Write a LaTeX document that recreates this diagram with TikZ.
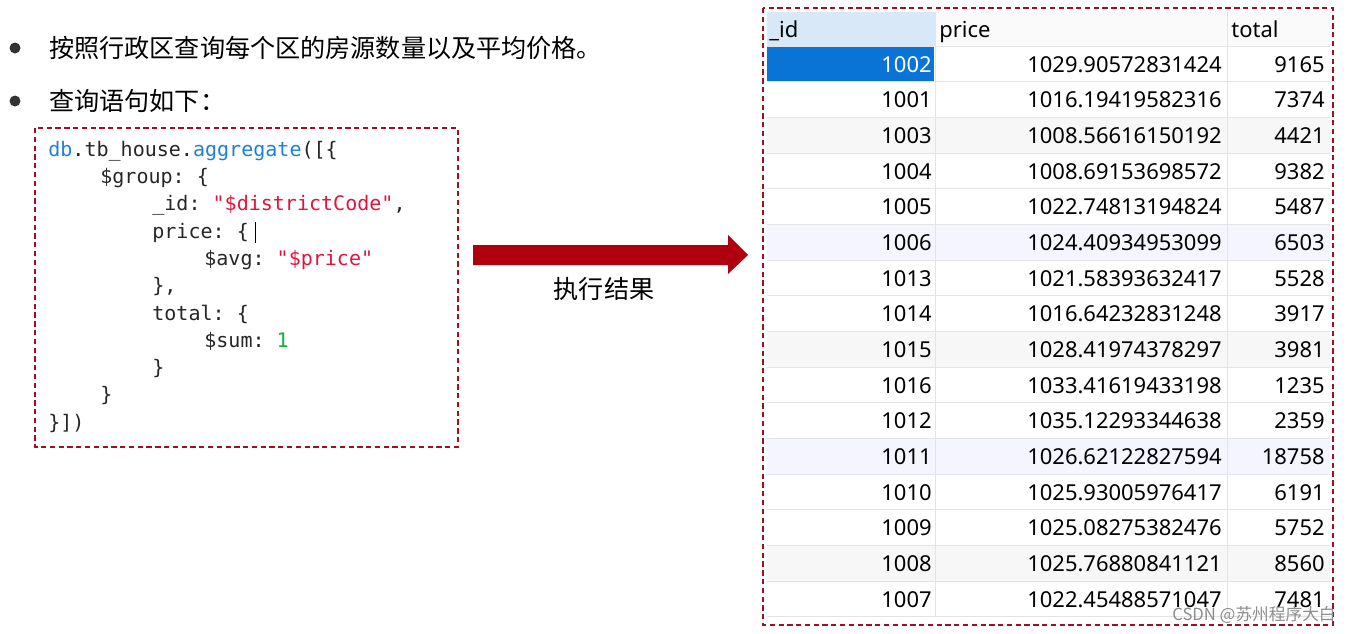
\documentclass[tikz,border=0pt]{standalone}
\usepackage{fontspec}
\setmainfont{Noto Sans}
\setmonofont{DejaVu Sans Mono}
\newfontfamily\cjk{Noto Sans CJK SC}
\definecolor{kw}{HTML}{1E7FD8}
\definecolor{str}{HTML}{E0143C}
\definecolor{num}{HTML}{10B040}
\definecolor{boxred}{HTML}{A01020}
\definecolor{arrred}{HTML}{B00010}
\definecolor{hdr}{HTML}{D8E8F6}
\definecolor{sel}{HTML}{0A74D6}
\definecolor{grid}{HTML}{E4E4E4}
\begin{document}
\begin{tikzpicture}[x=0.02cm,y=-0.02cm,
  codeln/.style={anchor=base west,inner sep=0pt,font=\ttfamily\fontsize{11.4}{13}\selectfont,text=black!85},
  cell/.style={anchor=base east,inner sep=0pt,font=\fontsize{12.5}{14}\selectfont},
  hcell/.style={anchor=base west,inner sep=0pt,font=\fontsize{12.5}{14}\selectfont},
  dbox/.style={draw=boxred,densely dashed,line width=0.6pt},
  bul/.style={anchor=base west,inner sep=0pt,font=\cjk\fontsize{14.3}{17}\selectfont}]
\useasboundingbox (0,0) rectangle (1351,633);
% bullets
\fill[black!80] (15,48) circle (5.5);
\fill[black!80] (15,101) circle (5.5);
\node[bul] (b1) at (49,57) {按照行政区查询每个区的房源数量以及平均价格。};
\node[bul] (b2) at (49,110) {查询语句如下：};
% code box
\draw[dbox] (35,128) rectangle (458,447);
\def\cx#1{48+13*#1}
\node[codeln] (c1) at ({\cx0},156) {\textcolor{kw}{db}.tb\_house.\textcolor{kw}{aggregate}([\{};
\node[codeln] (c2) at ({\cx4},183) {\$group: \{};
\node[codeln] (c3) at ({\cx8},210) {\_id: \textcolor{str}{"\$districtCode"},};
\node[codeln] (c4) at ({\cx8},238) {price: \{};
\draw[black] (255,222) -- (255,243);
\node[codeln] (c5) at ({\cx{12}},265) {\$avg: \textcolor{str}{"\$price"}};
\node[codeln] (c6) at ({\cx8},292) {\},};
\node[codeln] (c7) at ({\cx8},320) {total: \{};
\node[codeln] (c8) at ({\cx{12}},347) {\$sum: \textcolor{num}{1}};
\node[codeln] (c9) at ({\cx8},374) {\}};
\node[codeln] (c10) at ({\cx4},401) {\}};
\node[codeln] (c11) at ({\cx0},429) {\}])};
% arrow
\fill[arrred] (473,245) -- (728,245) -- (728,235) -- (748,255) -- (728,274) -- (728,265) -- (473,265) -- cycle;
\node[bul,anchor=center] (lbl) at (604,289) {执行结果};
% table
\draw[dbox] (763,8) rectangle (1333,625);
\fill[hdr] (767,12) rectangle (935,46);
\fill[black!2] (935,12) rectangle (1330,46);
\foreach \i in {2,5,8,11,14}{
  \fill[black!3] (767,{46+35.67*\i}) rectangle (1330,{46+35.67*(\i+1)});
}
\fill[blue!4] (767,{46+35.67*5}) rectangle (1330,{46+35.67*6});
\fill[blue!4] (767,{46+35.67*11}) rectangle (1330,{46+35.67*12});
\fill[sel] (767,47) rectangle (934,81);
\foreach \i in {0,...,16}{
  \draw[grid,line width=0.5pt] (767,{46+35.67*\i}) -- (1330,{46+35.67*\i});
}
\draw[grid,line width=0.5pt] (935,12) -- (935,617) (1227,12) -- (1227,617);
\node[hcell] (h1) at (769,37) {\_id};
\node[hcell] (h2) at (939,37) {price};
\node[hcell] (h3) at (1231,37) {total};
\foreach \id/\pr/\tt [count=\k from 0] in {
1002/1029.90572831424/9165,1001/1016.19419582316/7374,1003/1008.56616150192/4421,
1004/1008.69153698572/9382,1005/1022.74813194824/5487,1006/1024.40934953099/6503,
1013/1021.58393632417/5528,1014/1016.64232831248/3917,1015/1028.41974378297/3981,
1016/1033.41619433198/1235,1012/1035.12293344638/2359,1011/1026.62122827594/18758,
1010/1025.93005976417/6191,1009/1025.08275382476/5752,1008/1025.76880841121/8560,
1007/1022.45488571047/7481}{
  \pgfmathsetmacro\yy{72+35.67*\k}
  \ifnum\k=0
    \node[cell,text=white] (i\k) at (932,\yy) {\id};
  \else
    \node[cell] (i\k) at (932,\yy) {\id};
  \fi
  \node[cell] (p\k) at (1222,\yy) {\pr};
  \node[cell] (t\k) at (1325,\yy) {\tt};
}
\node[anchor=base east,inner sep=0pt,text=black!45,font=\cjk\fontsize{9.5}{11}\selectfont] (wm) at (1336,620) {CSDN @苏州程序大白};
\end{tikzpicture}
\end{document}
